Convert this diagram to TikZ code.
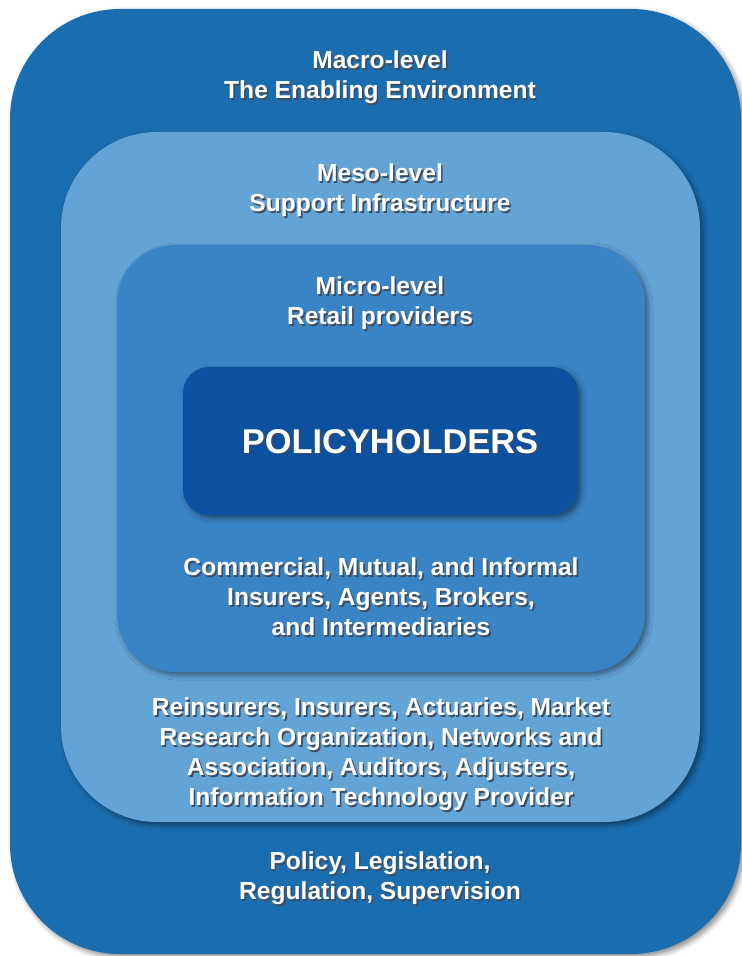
\documentclass[tikz,border=0pt]{standalone}
\usepackage{fontspec}
\setmainfont{Liberation Sans}
\usepackage{xcolor}
\usepackage{tikz}
\usetikzlibrary{shadows.blur,positioning}
\definecolor{macroblue}{HTML}{1A6EB0}
\definecolor{mesoblue}{HTML}{63A4D7}
\definecolor{microblue}{HTML}{3984C5}
\definecolor{holderblue}{HTML}{0B51A0}
\definecolor{txtshade}{HTML}{1C2C44}
% white label with a small dark offset copy behind it
\newcommand\embossed[1]{\leavevmode\rlap{\kern0.8pt\raisebox{-0.8pt}{\textcolor{txtshade!85}{#1}}}#1}
\tikzset{
  lvlbox/.style   = {draw=none, blur shadow={shadow xshift=1.5pt, shadow yshift=-1.5pt,
                     shadow blur radius=2.5pt, shadow opacity=45}},
  lvltext/.style  = {text=white, font=\bfseries\fontsize{12.3}{15}\selectfont,
                     align=center, inner sep=0pt},
  holdtext/.style = {text=white, font=\bfseries\fontsize{17.2}{20}\selectfont, inner sep=0pt},
}

\begin{document}
\begin{tikzpicture}[x=0.5pt, y=-0.5pt]
  \useasboundingbox (0,0) rectangle (742,956);
  % the four levels, outside in
  \path[lvlbox, fill=macroblue, rounded corners=55pt]  (10,9)   rectangle (741,954);
  \path[lvlbox, fill=mesoblue, rounded corners=48pt]   (61,132) rectangle (700,822);
  \path[lvlbox, fill=microblue, rounded corners=29pt]  (117,245) rectangle (645,672);
  \path[lvlbox, fill=holderblue, rounded corners=13pt] (183,367) rectangle (578,515);

  \node[lvltext] (macro) at (380, 78) {\embossed{Macro-level}\\\embossed{The Enabling Environment}};
  \node[lvltext] (meso) at (380, 191) {\embossed{Meso-level}\\\embossed{Support Infrastructure}};
  \node[lvltext] (micro) at (380, 304) {\embossed{Micro-level}\\\embossed{Retail providers}};
  \node[holdtext] (holders) at (390, 442) {\embossed{POLICYHOLDERS}};

  \node[lvltext] (retail) at (381, 598) {\embossed{Commercial, Mutual, and Informal}\\
    \embossed{Insurers, Agents, Brokers,}\\\embossed{and Intermediaries}};
  \node[lvltext] (support) at (381, 755) {\embossed{Reinsurers, Insurers, Actuaries, Market}\\
    \embossed{Research Organization, Networks and}\\\embossed{Association, Auditors, Adjusters,}\\
    \embossed{Information Technology Provider}};
  \node[lvltext] (enabling) at (380, 879) {\embossed{Policy, Legislation,}\\\embossed{Regulation, Supervision}};
\end{tikzpicture}
\end{document}
